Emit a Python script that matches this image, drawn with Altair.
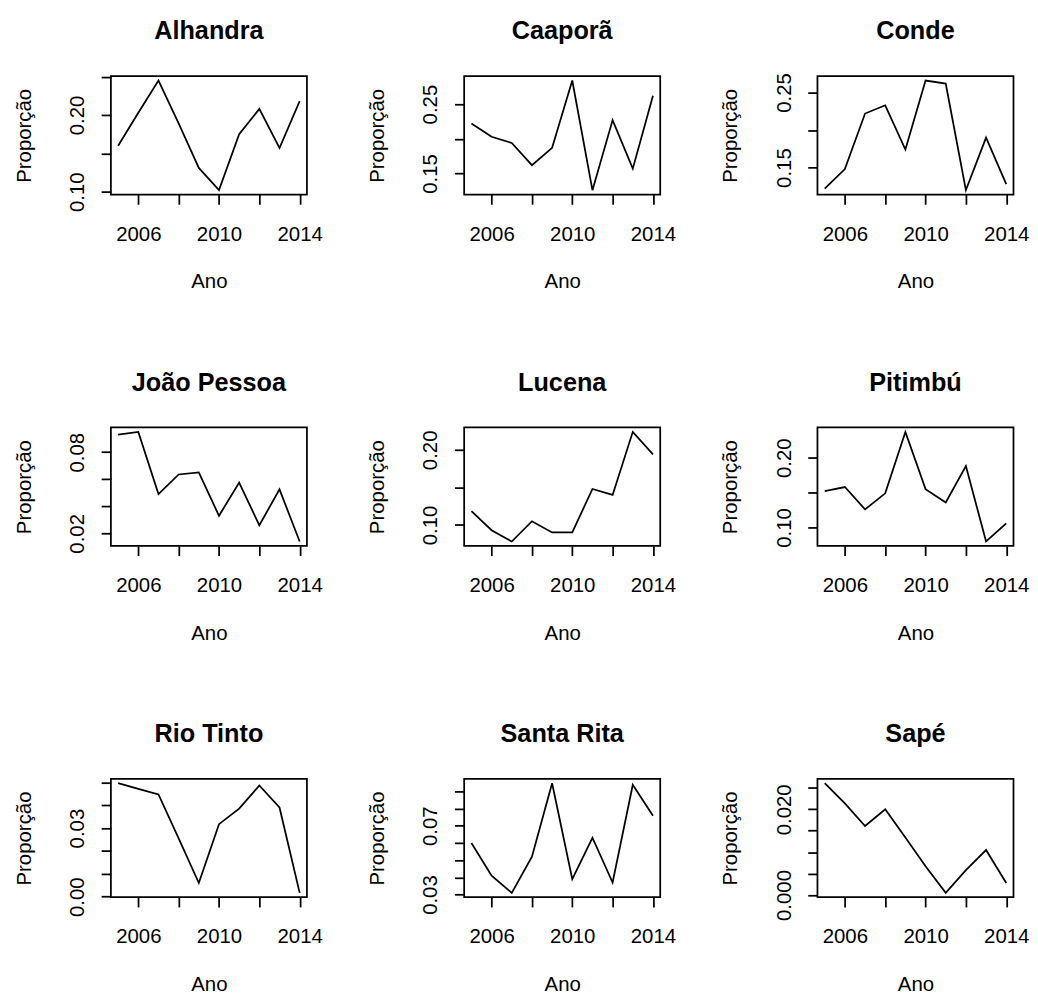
import altair as alt
import pandas as pd

anos = [2005, 2006, 2007, 2008, 2009, 2010, 2011, 2012, 2013, 2014]
municipios = ["Alhandra", "Caaporã", "Conde", "João Pessoa", "Lucena",
              "Pitimbú", "Rio Tinto", "Santa Rita", "Sapé"]

alhandra = [0.160, 0.203, 0.245, 0.189, 0.131, 0.102, 0.175, 0.208, 0.157, 0.218]
caapora = [0.222, 0.203, 0.194, 0.162, 0.187, 0.284, 0.126, 0.227, 0.157, 0.262]
conde = [0.122, 0.148, 0.222, 0.233, 0.174, 0.266, 0.262, 0.120, 0.190, 0.128]
joao_pessoa = [0.093, 0.095, 0.049, 0.0635, 0.065, 0.033, 0.0575, 0.026, 0.0525, 0.014]
lucena = [0.1185, 0.093, 0.078, 0.105, 0.090, 0.090, 0.148, 0.140, 0.224, 0.194]
pitimbu = [0.152, 0.158, 0.126, 0.149, 0.237, 0.155, 0.136, 0.188, 0.080, 0.106]
rio_tinto = [0.0496, 0.0471, 0.0447, 0.0255, 0.006, 0.0317, 0.0385, 0.0486, 0.039, 0.0017]
santa_rita = [0.060, 0.041, 0.031, 0.052, 0.0947, 0.039, 0.063, 0.037, 0.0938, 0.0758]
sape = [0.0261, 0.0214, 0.0161, 0.0200, 0.0134, 0.0067, 0.0005, 0.0058, 0.0105, 0.0028]

series = [alhandra, caapora, conde, joao_pessoa, lucena, pitimbu, rio_tinto, santa_rita, sape]

# y tick values and which of them carry a label (R drops overlapping ones)
ticks_y = [
    [0.10, 0.15, 0.20, 0.25],
    [0.15, 0.20, 0.25],
    [0.15, 0.20, 0.25],
    [0.02, 0.04, 0.06, 0.08],
    [0.10, 0.15, 0.20],
    [0.10, 0.15, 0.20],
    [0.00, 0.01, 0.02, 0.03, 0.04, 0.05],
    [0.03, 0.04, 0.05, 0.06, 0.07, 0.08, 0.09],
    [0.000, 0.005, 0.010, 0.015, 0.020, 0.025],
]
rotulos_y = [
    ["0.10", "0.20"],
    ["0.15", "0.25"],
    ["0.15", "0.25"],
    ["0.02", "0.08"],
    ["0.10", "0.20"],
    ["0.10", "0.20"],
    ["0.00", "0.03"],
    ["0.03", "0.07"],
    ["0.000", "0.020"],
]
formatos_y = [".2f"] * 8 + [".3f"]

ticks_x = [2006, 2008, 2010, 2012, 2014]
rotulos_x = ["2006", "2010", "2014"]

FONT = "Liberation Sans"
W, H = 202, 122


def painel(nome, valores, tk, rot, fmt):
    df = pd.DataFrame({"ano": anos, "valor": valores})
    lo, hi = min(valores), max(valores)
    py = (hi - lo) * 0.04
    px = (max(anos) - min(anos)) * 0.04
    lista_y = "[" + ",".join("'" + r + "'" for r in rot) + "]"
    lista_x = "[" + ",".join("'" + r + "'" for r in rotulos_x) + "]"
    linha = alt.Chart(df).mark_line(color="black", strokeWidth=1.8).encode(
        x=alt.X("ano:Q",
                scale=alt.Scale(domain=[min(anos) - px, max(anos) + px], nice=False, zero=False),
                axis=alt.Axis(values=ticks_x, title="Ano",
                              labelExpr=f"indexof({lista_x}, '' + datum.value) >= 0 ? '' + datum.value : ''",
                              labelBaseline="alphabetic", labelPadding=37, labelFlush=False,
                              labelOverlap=False,
                              titleX=W / 2, titleY=96, titleAlign="center",
                              titleBaseline="alphabetic")),
        y=alt.Y("valor:Q",
                scale=alt.Scale(domain=[lo - py, hi + py], nice=False, zero=False),
                axis=alt.Axis(values=tk, title="Proporção",
                              labelExpr=f"indexof({lista_y}, format(datum.value, '{fmt}')) >= 0 ? format(datum.value, '{fmt}') : ''",
                              labelAngle=270, labelAlign="center", labelBaseline="alphabetic",
                              labelPadding=18, labelFlush=False, labelOverlap=False,
                              titleAngle=270, titleX=-83, titleY=H / 2, titleAlign="center",
                              titleBaseline="alphabetic")),
    )
    titulo = alt.Chart(pd.DataFrame({"titulo": [nome]})).mark_text(
        font=FONT, fontSize=26, fontWeight="bold", color="black",
        align="center", baseline="alphabetic",
    ).encode(
        text="titulo:N",
        x=alt.value(W / 2),
        y=alt.value(-38),
    )
    return alt.layer(linha, titulo).properties(width=W, height=H)


paineis = [painel(n, v, t, r, f) for n, v, t, r, f in
           zip(municipios, series, ticks_y, rotulos_y, formatos_y)]

chart = alt.concat(
    *paineis, columns=3, bounds="flush",
    spacing={"row": 240, "column": 162},
).properties(
    padding={"left": 5, "top": -5, "right": 0, "bottom": 0},
).configure(
    background="white",
).configure_view(
    stroke="black", strokeWidth=1.8,
).configure_axis(
    grid=False, domain=False, tickColor="black", tickWidth=1.8, tickSize=10,
    labelColor="black", labelFont=FONT, labelFontSize=21,
    titleColor="black", titleFont=FONT, titleFontSize=21, titleFontWeight="normal",
)

chart.save("out.html", embed_options={"renderer": "svg", "actions": False})
